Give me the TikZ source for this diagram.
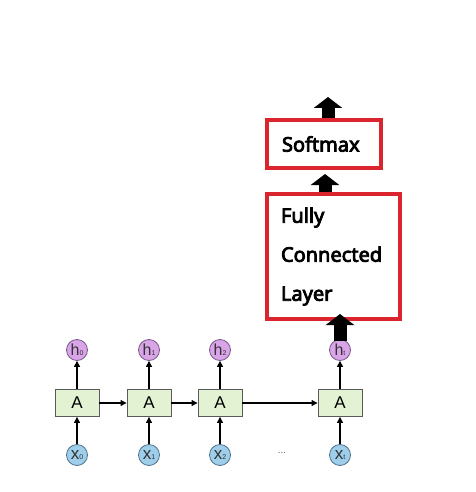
\documentclass[tikz,border=0pt]{standalone}
\usepackage{fontspec}
\setmainfont{Liberation Sans}
\newfontfamily\boxfont{Noto Sans}[BoldFont={Noto Sans}, BoldFeatures={FakeBold=4}]
\usetikzlibrary{arrows.meta}
\definecolor{hfill}{RGB}{218,164,232}
\definecolor{hdraw}{RGB}{120,90,135}
\definecolor{xfill}{RGB}{158,206,234}
\definecolor{xdraw}{RGB}{80,115,140}
\definecolor{afill}{RGB}{226,242,210}
\definecolor{adraw}{RGB}{90,90,90}
\definecolor{redbox}{RGB}{218,36,46}
\newcommand{\lab}[2]{#1{\fontsize{7pt}{8pt}\selectfont #2}}
\tikzset{
  cell/.style={draw=adraw, fill=afill, line width=0.9pt, minimum width=44pt, minimum height=27pt, inner sep=0pt, font=\fontsize{17pt}{20pt}\selectfont},
  hcirc/.style={circle, draw=hdraw, fill=hfill, line width=0.8pt, minimum size=21pt, inner sep=0pt, text=black!80, font=\fontsize{16pt}{18pt}\selectfont},
  xcirc/.style={circle, draw=xdraw, fill=xfill, line width=0.8pt, minimum size=21pt, inner sep=0pt, text=black!80, font=\fontsize{17pt}{18pt}\selectfont},
  thin arrow/.style={line width=1.2pt, -{Triangle[length=6pt,width=6pt]}},
  rbox/.style={draw=redbox, line width=4pt, fill=white, inner sep=0pt, align=left, font={\boxfont\bfseries\fontsize{20pt}{39pt}\selectfont}},
  big arrow/.style={line width=13pt, -{Triangle[length=11pt,width=28pt]}},
}
\begin{document}
\begin{tikzpicture}[x=1pt,y=-1pt]
\useasboundingbox (0,0) rectangle (475,492);
% RNN cells
\node[cell] (A0) at (77,403) {A};
\node[cell] (A1) at (149,403) {A};
\node[cell] (A2) at (220,403) {A};
\node[cell] (At) at (340,403) {A};
\node[hcirc] (h0) at (77,350) {\lab{h}{0}};
\node[hcirc] (h1) at (149,350) {\lab{h}{1}};
\node[hcirc] (h2) at (220,350) {\lab{h}{2}};
\node[hcirc] (ht) at (340,350) {\lab{h}{t}};
\node[xcirc] (x0) at (77,455) {\lab{x}{0}};
\node[xcirc] (x1) at (149,455) {\lab{x}{1}};
\node[xcirc] (x2) at (220,455) {\lab{x}{2}};
\node[xcirc] (xt) at (340,455) {\lab{x}{t}};
\node[text=black!60, font=\fontsize{10pt}{12pt}\selectfont] (dots) at (282,453) {...};
\foreach \i in {0,1,2,t}{
  \draw[thin arrow] (x\i) -- (A\i);
  \draw[thin arrow] (A\i) -- (h\i);
}
\draw[thin arrow] (A0) -- (A1);
\draw[thin arrow] (A1) -- (A2);
\draw[thin arrow] (A2) -- (At);
% red boxes
\node[rbox, minimum width=114pt, minimum height=48pt, text width=84pt] (soft) at (324,144) {Softmax};
\node[rbox, minimum width=133pt, minimum height=125pt, text width=105pt] (fc) at (333.5,256.5) {Fully\\Connected\\Layer};
\coordinate (top) at (328,97);
\coordinate (mid) at (325,171);
% big arrows
\draw[big arrow] (top |- soft.north) -- (top);
\draw[big arrow, shorten >=3pt] (mid |- fc.north) -- (mid);
\draw[big arrow, shorten >=-7pt, shorten <=-2pt] (ht.north) -- (ht.north |- fc.south);
\end{tikzpicture}
\end{document}
